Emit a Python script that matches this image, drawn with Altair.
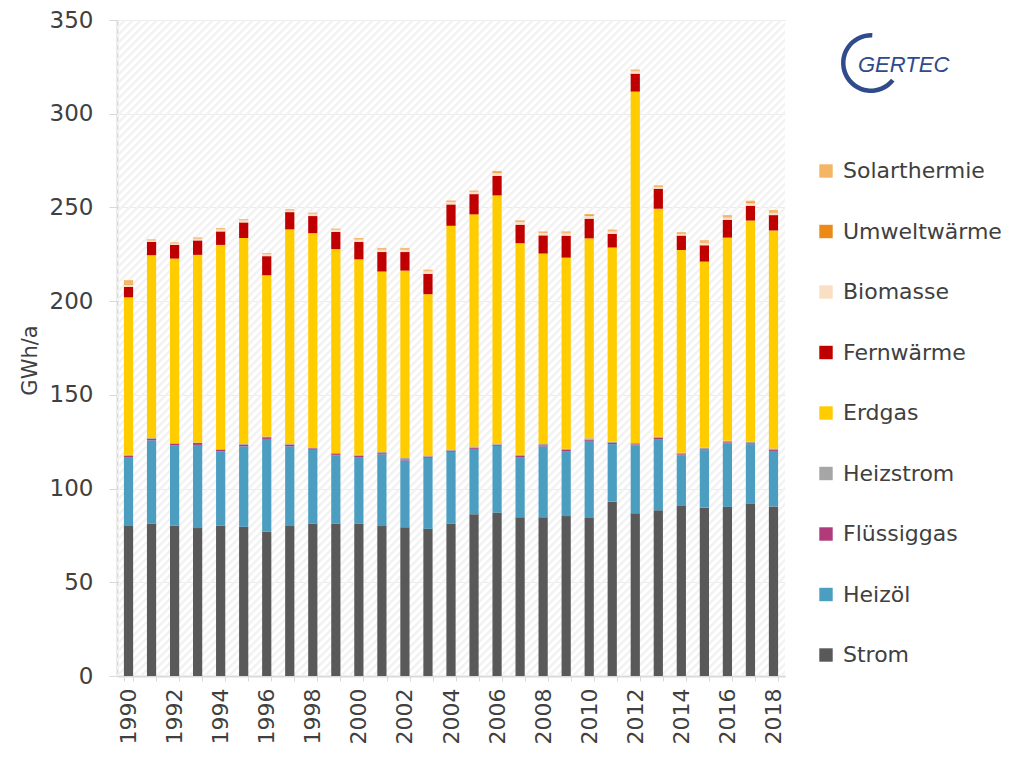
import altair as alt
import pandas as pd

years = list(range(1990, 2019))
strom = [80.0, 81.2, 80.3, 78.9, 80.3, 79.6, 77.0, 80.0, 81.2, 81.2, 81.2, 80.0, 79.4, 78.5, 81.2,
         86.3, 87.2, 84.7, 84.7, 85.3, 84.3, 93.0, 86.8, 88.4, 90.7, 89.8, 90.2, 91.8, 90.5]
heizoel = [36.8, 44.5, 42.7, 44.4, 39.5, 42.9, 49.5, 42.5, 39.5, 36.5, 35.6, 38.2, 35.6, 37.9, 38.4,
           34.9, 35.6, 32.1, 37.8, 34.7, 41.2, 30.7, 36.2, 38.0, 27.1, 30.7, 34.0, 31.9, 29.6]
fluessiggas = [0.8, 0.9, 0.9, 1.0, 0.9, 0.8, 0.9, 0.8, 0.8, 0.7, 0.7, 0.7, 0.6, 0.7, 0.7,
               0.6, 0.6, 0.6, 0.6, 0.6, 0.6, 0.6, 0.6, 0.6, 0.5, 0.5, 0.5, 0.5, 0.5]
heizstrom = [0.5, 0.4, 0.4, 0.3, 0.4, 0.5, 0.4, 0.5, 0.5, 0.6, 0.6, 0.6, 0.7, 0.6, 0.6,
             0.7, 0.7, 0.7, 0.7, 0.7, 0.7, 0.7, 0.7, 0.7, 0.8, 0.8, 0.8, 0.8, 0.8]
erdgas = [83.9, 97.5, 98.4, 100.1, 108.9, 109.9, 86.0, 114.5, 114.3, 108.8, 104.2, 96.3, 100.0, 86.0, 119.3,
          123.8, 132.3, 112.8, 101.6, 101.9, 106.7, 103.6, 187.5, 121.6, 108.2, 99.3, 108.4, 118.0, 116.3]
fernwaerme = [5.6, 7.1, 7.3, 7.7, 7.2, 8.3, 10.2, 9.2, 9.1, 9.1, 9.3, 10.4, 9.9, 10.8, 11.4,
              10.8, 10.4, 9.9, 9.7, 11.7, 10.5, 7.3, 9.6, 10.7, 7.7, 8.7, 9.5, 7.9, 8.2]
biomasse = [1.2, 0.9, 0.9, 1.0, 1.2, 1.2, 1.1, 1.0, 1.2, 1.2, 1.4, 1.4, 1.4, 1.5, 1.3,
            1.2, 1.7, 1.5, 1.3, 1.4, 1.5, 1.4, 1.3, 1.0, 1.0, 1.5, 1.3, 1.4, 1.4]
umweltwaerme = [0.4, 0.2, 0.2, 0.2, 0.2, 0.2, 0.2, 0.2, 0.2, 0.2, 0.2, 0.3, 0.3, 0.3, 0.3,
                0.2, 0.4, 0.3, 0.3, 0.3, 0.4, 0.3, 0.3, 0.3, 0.3, 0.5, 0.5, 0.5, 0.5]
solarthermie = [2.0, 0.3, 0.3, 0.4, 0.4, 0.4, 0.4, 0.4, 0.4, 0.4, 0.5, 0.5, 0.5, 0.5, 0.5,
                0.5, 0.6, 0.5, 0.5, 0.6, 0.6, 0.6, 0.6, 0.5, 0.5, 0.7, 0.7, 0.8, 0.8]

# stacking order, bottom to top
series = [
    ("Strom", strom, "#595959"),
    ("Heizöl", heizoel, "#4B9EC0"),
    ("Flüssiggas", fluessiggas, "#B03A7A"),
    ("Heizstrom", heizstrom, "#A6A6A6"),
    ("Erdgas", erdgas, "#FFCC00"),
    ("Fernwärme", fernwaerme, "#C00000"),
    ("Biomasse", biomasse, "#F9DFC4"),
    ("Umweltwärme", umweltwaerme, "#EB8A17"),
    ("Solarthermie", solarthermie, "#F4B566"),
]

rows = []
for k, (name, vals, _) in enumerate(series):
    for y, v in zip(years, vals):
        rows.append({"Jahr": y, "Energieträger": name, "Wert": v, "k": k})
df = pd.DataFrame(rows)

legend_order = [s[0] for s in series][::-1]
legend_colors = [s[2] for s in series][::-1]

FONT = "DejaVu Sans"
TXT = "#404040"
W, H = 668, 656

hatch = alt.Chart(alt.sequence(0, 170, as_="i")).transform_calculate(
    x0=f"datum.i * 8 - {H}", x1="datum.i * 8"
).mark_rule(color="#f2f2f2", strokeWidth=2.5, clip=True).encode(
    x=alt.X("x0:Q", scale=None, axis=None),
    x2="x1:Q",
    y=alt.value(H),
    y2=alt.value(0),
)

bars = alt.Chart(df).mark_bar().encode(
    x=alt.X(
        "Jahr:O",
        scale=alt.Scale(paddingInner=0.6, paddingOuter=0.3),
        axis=alt.Axis(
            title=None,
            labelAngle=-90,
            labelAlign="right",
            labelBaseline="middle",
            labelFont=FONT,
            labelFontSize=22,
            labelColor=TXT,
            labelPadding=7,
            tickBand="extent",
            tickSize=5,
            tickColor="#d9d9d9",
            domainColor="#d9d9d9",
            domainWidth=2,
            labelExpr="datum.value % 2 == 0 ? datum.label : ''",
        ),
    ),
    y=alt.Y(
        "Wert:Q",
        stack="zero",
        scale=alt.Scale(domain=[0, 350], nice=False),
        axis=alt.Axis(
            title="GWh/a",
            values=[0, 50, 100, 150, 200, 250, 300, 350],
            labelFont=FONT,
            labelFontSize=23,
            labelColor=TXT,
            labelPadding=16,
            tickSize=8,
            tickColor="#d9d9d9",
            domainColor="#d9d9d9",
            domainWidth=2,
            gridColor="#ebebeb",
            titleFont=FONT,
            titleFontSize=21,
            titleFontWeight="normal",
            titleColor=TXT,
            titleX=-87,
            titleY=340,
            titleBaseline="middle",
            titleAlign="center",
        ),
    ),
    color=alt.Color(
        "Energieträger:N",
        scale=alt.Scale(domain=legend_order, range=legend_colors),
        legend=alt.Legend(
            title=None,
            orient="none",
            legendX=698,
            legendY=140,
            symbolType="square",
            symbolSize=180,
            symbolStrokeWidth=0,
            labelFont=FONT,
            labelFontSize=22,
            labelColor=TXT,
            labelOffset=6,
            labelLimit=0,
            rowPadding=38.5,
        ),
    ),
    order=alt.Order("k:Q", sort="ascending"),
)

logo_arc = alt.Chart(pd.DataFrame({"a": [0]})).mark_arc(
    theta=2.24, theta2=6.33, radius=30, radius2=25.5, color="#2F4B8C"
).encode(x=alt.value(754), y=alt.value(43))

logo_txt = alt.Chart(pd.DataFrame({"t": ["GERTEC"]})).mark_text(
    align="left", baseline="alphabetic", font="Liberation Sans",
    fontStyle="italic", fontSize=22, color="#2F4B8C"
).encode(text="t:N", x=alt.value(741), y=alt.value(52))

chart = alt.layer(hatch, bars, logo_arc, logo_txt).resolve_scale(
    x="independent", y="independent"
).properties(
    width=W,
    height=H,
    autosize=alt.AutoSizeParams(type="none"),
    padding={"left": 109, "top": 12, "right": 226, "bottom": 68},
    background="white",
).configure_view(stroke=None)

chart.save("out.html", embed_options={"renderer": "svg", "actions": False})
